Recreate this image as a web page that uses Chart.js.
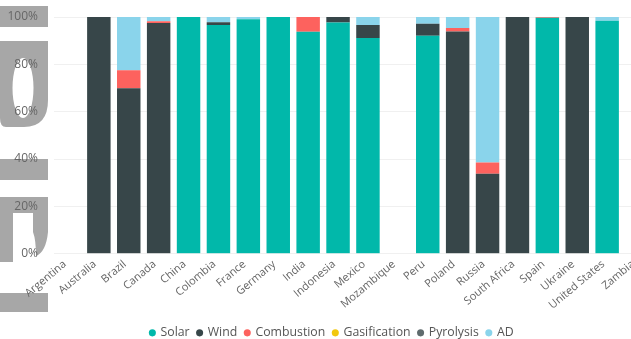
<!DOCTYPE html>
<html>
<head>
<meta charset="utf-8">
<script src="https://cdn.jsdelivr.net/npm/chart.js@4/dist/chart.umd.min.js"></script>
<style>
  html, body { margin: 0; padding: 0; background: #fff; overflow: hidden; }
  #wrap { position: absolute; left: 0; top: 0; width: 660px; height: 350px; }
</style>
</head>
<body>
<div id="wrap"><canvas id="c" width="660" height="350"></canvas></div>
<script>
// Share of capacity by technology, per country (percent of country total)
const countries = ["Argentina", "Australia", "Brazil", "Canada", "China", "Colombia", "France",
  "Germany", "India", "Indonesia", "Mexico", "Mozambique", "Peru", "Poland", "Russia",
  "South Africa", "Spain", "Ukraine", "United States", "Zambia"];

const solar        = [null, 0,    0,    0,    100, 96.6, 99,  100, 93.8, 97.7, 91.1, null, 92.1, 0,    0,    0,   99.7, 0,   98.4, null];
const wind         = [null, 100,  69.9, 97.5, 0,   1.2,  0,   0,   0,    2.3,  5.5,  null, 5.1,  93.9, 33.8, 100, 0,    100, 0,    null];
const combustion   = [null, 0,    7.6,  0.7,  0,   0,    0,   0,   6.2,  0,    0,    null, 0,    1.4,  4.7,  0,   0.3,  0,   0,    null];
const gasification = [null, 0,    0,    0,    0,   0,    0,   0,   0,    0,    0,    null, 0,    0,    0,    0,   0,    0,   0,    null];
const pyrolysis    = [null, 0,    0,    0,    0,   0,    0,   0,   0,    0,    0,    null, 0,    0,    0,    0,   0,    0,   0,    null];
const ad           = [null, 0,    22.5, 1.8,  0,   2.2,  1,   0,   0,    0,    3.4,  null, 2.8,  4.7,  61.5, 0,   0,    0,   1.6,  null];

const yTicks = [0, 20, 40, 60, 80, 100];

const seriesNames  = ["Solar", "Wind", "Combustion", "Gasification", "Pyrolysis", "AD"];
const seriesData   = [solar, wind, combustion, gasification, pyrolysis, ad];
const seriesColors = ["#01B8AA", "#374649", "#FD625E", "#F2C80F", "#5F6B6D", "#8AD4EB"];

const FONT = "'Open Sans', 'Noto Sans', sans-serif";

// Grey tabs painted behind the value-axis labels
const sideTabs = {
  id: "sideTabs",
  beforeDraw(chart) {
    const ctx = chart.ctx;
    ctx.save();
    ctx.fillStyle = "#a7a7a7";
    ctx.fillRect(0, 6, 48, 21);

    ctx.beginPath();
    ctx.moveTo(0, 41);
    ctx.lineTo(48, 41);
    ctx.lineTo(48, 100);
    ctx.quadraticCurveTo(48, 127, 24, 127);
    ctx.lineTo(6, 127);
    ctx.quadraticCurveTo(0, 127, 0, 118);
    ctx.closePath();
    ctx.ellipse(23, 88, 10.5, 30, 0, 0, Math.PI * 2);
    ctx.fill("evenodd");

    ctx.fillRect(0, 159, 48, 21);

    ctx.fillRect(0, 197, 13, 65);
    ctx.fillRect(0, 197, 48, 16);
    ctx.beginPath();
    ctx.moveTo(33, 213);
    ctx.lineTo(48, 213);
    ctx.lineTo(48, 232);
    ctx.quadraticCurveTo(46, 252, 36, 256);
    ctx.quadraticCurveTo(36, 240, 33, 232);
    ctx.closePath();
    ctx.fill();

    ctx.fillRect(0, 293, 48, 19);
    ctx.restore();
  }
};

// Nudge the legend row a little to the right of the canvas centre
const legendNudge = {
  id: "legendNudge",
  afterLayout(chart) {
    const lg = chart.legend;
    if (lg) { lg.left += 6; lg.right += 6; }
  }
};

new Chart(document.getElementById("c"), {
  type: "bar",
  data: {
    labels: countries,
    datasets: seriesNames.map((name, i) => ({
      label: name,
      data: seriesData[i],
      backgroundColor: seriesColors[i],
      borderWidth: 0,
      categoryPercentage: 1,
      barPercentage: 0.785
    }))
  },
  plugins: [sideTabs, legendNudge],
  options: {
    responsive: false,
    animation: false,
    layout: { padding: { top: 17, right: 8, left: 0, bottom: 1 } },
    plugins: {
      tooltip: { enabled: false },
      legend: {
        position: "bottom",
        labels: {
          usePointStyle: true,
          pointStyle: "circle",
          boxWidth: 4,
          boxHeight: 5,
          padding: 8,
          color: "#555",
          font: { family: FONT, size: 12.3 }
        }
      }
    },
    scales: {
      x: {
        stacked: true,
        grid: { display: false, drawTicks: false },
        border: { display: false },
        ticks: {
          autoSkip: false,
          minRotation: 40,
          maxRotation: 40,
          padding: 4,
          labelOffset: -4,
          color: "#666",
          font: { family: FONT, size: 11 }
        },
        afterFit(scale) { scale.height = 65; }
      },
      y: {
        stacked: true,
        min: 0,
        max: 100,
        afterBuildTicks(scale) { scale.ticks = yTicks.map(v => ({ value: v })); },
        grid: { color: "#f0f0f0", lineWidth: 1, drawTicks: true, tickLength: 14, tickColor: "rgba(0,0,0,0)" },
        border: { display: false },
        ticks: {
          padding: 2,
          color: "#666",
          font: { family: FONT, size: 12 },
          callback: v => v + "%"
        },
        afterFit(scale) { scale.width = 54; }
      }
    }
  }
});
</script>
</body>
</html>
